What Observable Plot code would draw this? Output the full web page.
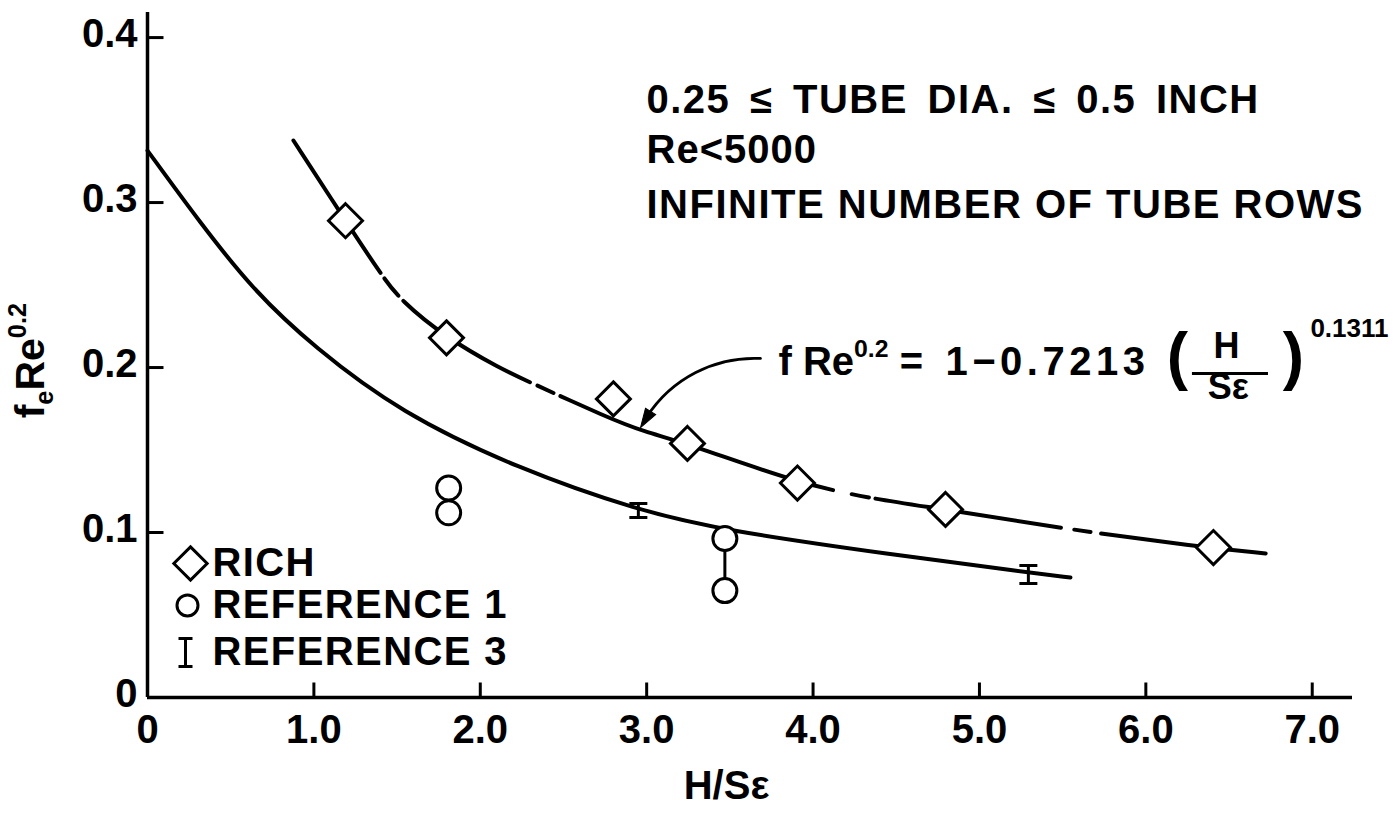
<!DOCTYPE html>
<html>
<head>
<meta charset="utf-8">
<script src="https://cdn.jsdelivr.net/npm/d3@7"></script>
<script src="https://cdn.jsdelivr.net/npm/@observablehq/plot@0.6"></script>
<style>
html, body { margin: 0; padding: 0; background: #fff; }
#chart svg { display: block; }
</style>
</head>
<body>
<div id="chart"></div>
<script>
// ---------------- data ----------------
const richX = [1.19, 1.797, 2.80, 3.245, 3.906, 4.796, 6.406];
const richY = [0.289, 0.218, 0.181, 0.154, 0.130, 0.114, 0.0909];

const ref1X = [1.81, 1.81, 3.47, 3.47];
const ref1Y = [0.127, 0.112, 0.0964, 0.0648];
const ref1LinkX = [3.47];
const ref1LinkLo = [0.0648];
const ref1LinkHi = [0.0964];

const ref3X = [2.95, 5.294];
const ref3Lo = [0.1091, 0.0691];
const ref3Hi = [0.1176, 0.0800];

const upperCurveX = [0.877, 1.19, 1.40, 1.52, 1.797, 2.12, 2.30, 2.764, 2.98, 3.245, 3.906, 4.35, 4.796, 5.50, 6.31, 6.72];
const upperCurveY = [0.3376, 0.289, 0.257, 0.2406, 0.218, 0.1994, 0.191, 0.1697, 0.1612, 0.154, 0.130, 0.1205, 0.114, 0.1024, 0.0915, 0.0873];
// breaks of the long-dash / short-dash pattern: [solid end, dash start, dash end, solid resumes]
const upperBreaks = [[1.40, 1.424, 1.508, 1.538], [2.30, 2.344, 2.44, 2.482], [4.12, 4.23, 4.335, 4.375], [5.49, 5.57, 5.667, 5.73]];

const lowerCurveX = [0, 0.318, 0.637, 1.0, 1.52, 2.224, 2.95, 3.47, 4.47, 5.294, 5.547];
const lowerCurveY = [0.3315, 0.2875, 0.2467, 0.2124, 0.1727, 0.1388, 0.1133, 0.1012, 0.0867, 0.0758, 0.0727];

const xTicks = [0, 1, 2, 3, 4, 5, 6, 7];
const xTickLabels = ["0", "1.0", "2.0", "3.0", "4.0", "5.0", "6.0", "7.0"];
const yTicks = [0, 0.1, 0.2, 0.3, 0.4];
const yTickLabels = ["0", "0.1", "0.2", "0.3", "0.4"];

const noteLines = ["0.25 \u2264 TUBE DIA. \u2264 0.5 INCH", "Re<5000", "INFINITE NUMBER OF TUBE ROWS"];
const legendLabels = ["RICH", "REFERENCE 1", "REFERENCE 3"];

// ---------------- tables built from the arrays ----------------
const rich = richX.map((x, i) => ({x, y: richY[i]}));
const ref1 = ref1X.map((x, i) => ({x, y: ref1Y[i]}));
const ref1Links = ref1LinkX.map((x, i) => ({x, lo: ref1LinkLo[i], hi: ref1LinkHi[i]}));
const ref3 = ref3X.map((x, i) => ({x, lo: ref3Lo[i], hi: ref3Hi[i]}));
const upper = upperCurveX.map((x, i) => ({x, y: upperCurveY[i]}));
const lower = lowerCurveX.map((x, i) => ({x, y: lowerCurveY[i]}));

// ---------------- custom symbols ----------------
const tickUp = {draw(ctx) { ctx.moveTo(0, 0); ctx.lineTo(0, -15); }};
const tickRight = {draw(ctx) { ctx.moveTo(0, 0); ctx.lineTo(16, 0); }};
const capSym = {draw(ctx) { ctx.moveTo(-9, 0); ctx.lineTo(9, 0); }};
const ibeamSym = {draw(ctx) {
  ctx.moveTo(-7, -14); ctx.lineTo(7, -14);
  ctx.moveTo(0, -14); ctx.lineTo(0, 14);
  ctx.moveTo(-7, 14); ctx.lineTo(7, 14);
}};
const headSym = {draw(ctx) { ctx.moveTo(0, 0); ctx.lineTo(-19, -6); ctx.lineTo(-19, 6); ctx.closePath(); }};

const FONT = '"Liberation Sans", Arial, Helvetica, sans-serif';

const plot = Plot.plot({
  width: 1393,
  height: 814,
  marginLeft: 147,
  marginRight: 41,
  marginTop: 12,
  marginBottom: 117,
  x: {domain: [0, 7.242], axis: null},
  y: {domain: [0, 0.4152], axis: null},
  style: {fontFamily: FONT, fontWeight: "bold", background: "white", color: "black", overflow: "visible"},
  marks: [
    // axes lines
    Plot.ruleX([0], {stroke: "black", strokeWidth: 3.5}),
    Plot.ruleY([0], {stroke: "black", strokeWidth: 3.5}),
    // inward ticks
    Plot.dot(xTicks.slice(1), {x: d => d, y: 0, symbol: tickUp, fill: "none", stroke: "black", strokeWidth: 3}),
    Plot.dot(yTicks.slice(1), {x: 0, y: d => d, symbol: tickRight, fill: "none", stroke: "black", strokeWidth: 3}),
    // tick labels
    Plot.text(xTicks, {x: d => d, y: 0, text: (d, i) => xTickLabels[i], dy: 33, fontSize: 40, textAnchor: "middle", lineAnchor: "middle"}),
    Plot.text(yTicks, {x: 0, y: d => d, text: (d, i) => yTickLabels[i], dx: -10, dy: -3, fontSize: 40, textAnchor: "end", lineAnchor: "middle"}),
    // axis titles
    Plot.text(["H/S\u03B5"], {x: 3.48, y: -0.0540, fontSize: 40, textAnchor: "middle", lineAnchor: "middle"}),
    Plot.text(["f_{e}Re^{0.2}"], {x: -0.70, y: 0.2042, rotate: -90, fontSize: 41, textAnchor: "middle", lineAnchor: "middle"}),

    // curves (lower first, upper second)
    Plot.line(lower, {x: "x", y: "y", curve: "basis", stroke: "black", strokeWidth: 4}),
    Plot.line(upper, {x: "x", y: "y", curve: "basis", stroke: "black", strokeWidth: 4}),

    // reference 1 (circles) with connector
    Plot.ruleX(ref1Links, {x: "x", y1: "lo", y2: "hi", stroke: "black", strokeWidth: 3}),
    Plot.dot(ref1, {x: "x", y: "y", r: 12, fill: "white", stroke: "black", strokeWidth: 3}),
    // reference 3 (error bars)
    Plot.ruleX(ref3, {x: "x", y1: "lo", y2: "hi", stroke: "black", strokeWidth: 3}),
    Plot.dot(ref3, {x: "x", y: "lo", symbol: capSym, fill: "none", stroke: "black", strokeWidth: 3}),
    Plot.dot(ref3, {x: "x", y: "hi", symbol: capSym, fill: "none", stroke: "black", strokeWidth: 3}),
    // Rich (diamonds)
    Plot.dot(rich, {x: "x", y: "y", symbol: "diamond2", r: 15.3, fill: "white", stroke: "black", strokeWidth: 3}),

    // notes
    Plot.text(noteLines, {x: 2.999, y: (d, i) => [0.3618, 0.3315, 0.2982][i], fontSize: 40, textAnchor: "start", lineAnchor: "middle"}),

    // equation
    Plot.text(["f Re^{0.2}"], {x: 3.792, y: 0.2030, fontSize: 40, textAnchor: "start", lineAnchor: "middle"}),
    Plot.text(["="], {x: 4.591, y: 0.2030, fontSize: 40, textAnchor: "middle", lineAnchor: "middle"}),
    Plot.text(["1\u22120.7213"], {x: 4.796, y: 0.2030, fontSize: 40, textAnchor: "start", lineAnchor: "middle"}),
    Plot.text(["("], {x: 6.190, y: 0.2060, fontSize: 64, textAnchor: "middle", lineAnchor: "middle"}),
    Plot.text([")"], {x: 6.887, y: 0.2060, fontSize: 64, textAnchor: "middle", lineAnchor: "middle"}),
    Plot.text(["H"], {x: 6.484, y: 0.2127, fontSize: 36, textAnchor: "middle", lineAnchor: "middle"}),
    Plot.ruleY([0.1964], {x1: 6.280, x2: 6.737, stroke: "black", strokeWidth: 3}),
    Plot.text(["S\u03B5"], {x: 6.496, y: 0.1879, fontSize: 36, textAnchor: "middle", lineAnchor: "middle"}),
    Plot.text(["0.1311"], {x: 6.989, y: 0.2236, fontSize: 26, textAnchor: "start", lineAnchor: "middle"}),
    Plot.arrow([0], {x1: 3.684, y1: 0.2055, x2: 3.00, y2: 0.1700, bend: -30, stroke: "black", strokeWidth: 2.8, headLength: 0}),
    Plot.dot([0], {x: 2.963, y: 0.1636, symbol: headSym, rotate: 122, fill: "black", stroke: "black", strokeWidth: 1}),

    // legend
    Plot.dot([0], {x: 0.2584, y: 0.0812, symbol: "diamond2", r: 15, fill: "white", stroke: "black", strokeWidth: 3}),
    Plot.dot([0], {x: 0.2404, y: 0.0558, r: 10.5, fill: "white", stroke: "black", strokeWidth: 3}),
    Plot.dot([0], {x: 0.2284, y: 0.0273, symbol: ibeamSym, fill: "none", stroke: "black", strokeWidth: 3}),
    Plot.text(legendLabels, {x: 0.3906, y: (d, i) => [0.0812, 0.0558, 0.0273][i], fontSize: 40, textAnchor: "start", lineAnchor: "middle"})
  ]
});

document.getElementById("chart").appendChild(plot);

// ---------------- post-processing: spacing of some texts ----------------
plot.querySelectorAll("text").forEach(t => {
  const s = t.textContent;
  if (s === noteLines[0]) { t.style.letterSpacing = "1.5px"; t.style.wordSpacing = "7px"; }
  if (s === noteLines[1]) { t.style.letterSpacing = "1px"; }
  if (s === noteLines[2]) { t.style.letterSpacing = "1.5px"; }
  if (s === "1\u22120.7213") t.style.letterSpacing = "4.5px";
  if (legendLabels.includes(s)) t.style.letterSpacing = "1.4px";
});

// ---------------- post-processing: rich text (sub/superscripts) ----------------
const SVGNS = "http://www.w3.org/2000/svg";
function richify(textEl) {
  const s = textEl.textContent;
  if (!/[\^_]\{/.test(s)) return;
  const g = textEl.closest("g");
  const fs = parseFloat(textEl.getAttribute("font-size") || (g && g.getAttribute("font-size")) || 40);
  while (textEl.firstChild) textEl.removeChild(textEl.firstChild);
  const parts = s.split(/(\^\{[^}]*\}|_\{[^}]*\})/).filter(p => p);
  let shift = 0;
  for (const p of parts) {
    const t = document.createElementNS(SVGNS, "tspan");
    let target = 0, txt = p, size = null;
    if (p.startsWith("^{")) { target = -0.45 * fs; txt = p.slice(2, -1); size = 0.62 * fs; }
    else if (p.startsWith("_{")) { target = 0.22 * fs; txt = p.slice(2, -1); size = 0.62 * fs; }
    t.setAttribute("dy", target - shift);
    shift = target;
    if (size) t.setAttribute("font-size", size);
    t.textContent = txt;
    textEl.appendChild(t);
  }
}
plot.querySelectorAll("text").forEach(richify);

// ---------------- post-processing: long-dash/short-dash pattern of the upper curve ----------------
const xs = plot.scale("x");
const lineGroups = plot.querySelectorAll('g[aria-label="line"]');
const upperPath = lineGroups.length > 1 ? lineGroups[1].querySelector("path") : null;
if (upperPath && upperPath.getTotalLength) {
  const L = upperPath.getTotalLength();
  const lenAtX = (px) => {
    let lo = 0, hi = L;
    for (let k = 0; k < 40; k++) {
      const mid = (lo + hi) / 2;
      if (upperPath.getPointAtLength(mid).x < px) lo = mid; else hi = mid;
    }
    return (lo + hi) / 2;
  };
  const arr = [];
  let prev = 0;
  for (const b of upperBreaks) {
    const ls = b.map(v => lenAtX(xs.apply(v)));
    arr.push(ls[0] - prev, ls[1] - ls[0], ls[2] - ls[1], ls[3] - ls[2]);
    prev = ls[3];
  }
  arr.push(L - prev + 20, L + 20);
  upperPath.setAttribute("stroke-dasharray", arr.map(v => v.toFixed(2)).join(" "));
}
</script>
</body>
</html>
